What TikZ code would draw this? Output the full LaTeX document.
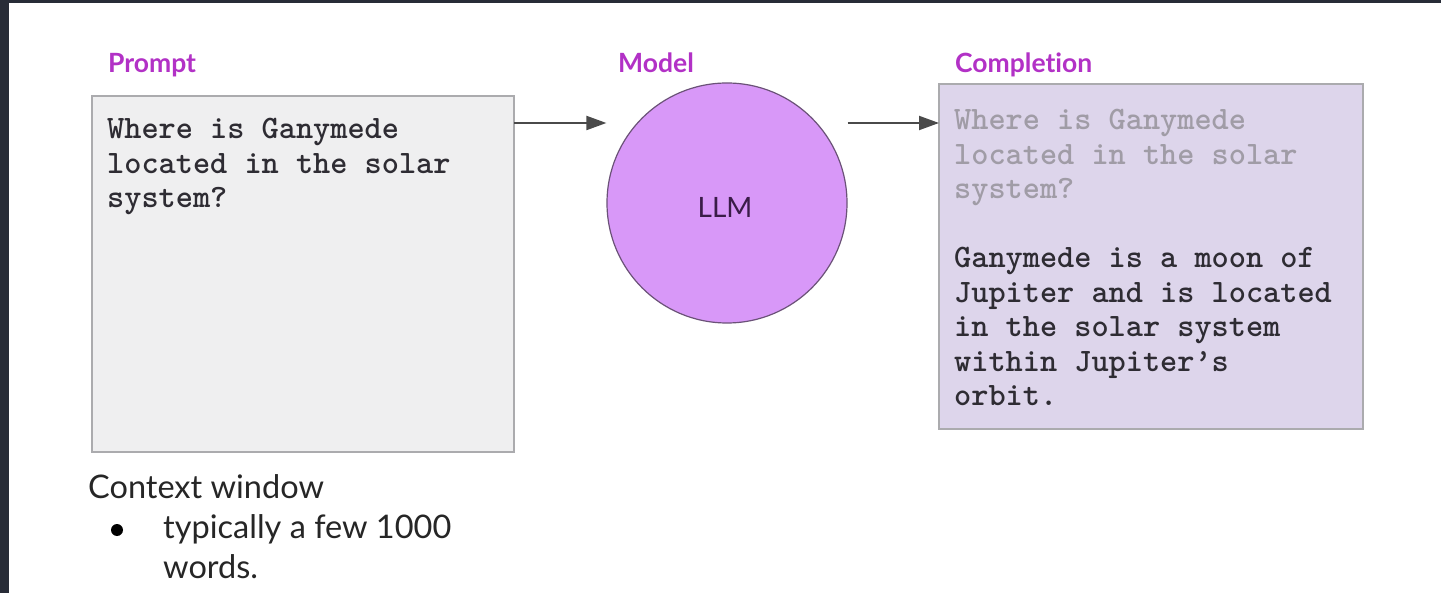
\documentclass[tikz,border=0pt]{standalone}
\usepackage{fontspec}
\setmainfont{Lato}[Ligatures=NoCommon]
\newfontfamily\slabcode[Extension=.otf]{lmmonolt10-bold}
\usetikzlibrary{arrows.meta}
\definecolor{frame}{HTML}{282C37}
\definecolor{heading}{HTML}{B231C6}
\definecolor{promptfill}{HTML}{EFEFF0}
\definecolor{boxline}{HTML}{ABABAE}
\definecolor{complfill}{HTML}{DDD5EB}
\definecolor{llmfill}{HTML}{D898F8}
\definecolor{llmline}{HTML}{6B5278}
\definecolor{llmtext}{HTML}{3A1C48}
\definecolor{echo}{HTML}{A09CA6}
\definecolor{answer}{HTML}{2E2C33}
\definecolor{arrowc}{HTML}{4A4A4A}
\tikzset{
  heading/.style={anchor=base west, inner sep=0pt, text=heading,
    font=\fontsize{26.5}{30}\selectfont\bfseries},
  textbox/.style={draw=boxline, line width=1.2pt},
  code/.style={anchor=north west, inner sep=0pt, align=left,
    font=\slabcode\fontsize{32.7}{34.6}\selectfont},
  flow/.style={draw=arrowc, line width=2pt,
    -{Triangle[length=20pt,width=14pt]}},
  plain/.style={anchor=base west, inner sep=0pt, text=black!85,
    font=\fontsize{32.5}{40}\selectfont}
}
\begin{document}
\begin{tikzpicture}[x=1pt,y=-1pt]
  % page background and dark frame
  \fill[frame] (0,0) rectangle (1441,593);
  \fill[white] (9,3) rectangle (1441,593);
  \useasboundingbox (0,0) rectangle (1441,593);

  % headings
  \node[heading] (hprompt) at (108,73) {Prompt};
  \node[heading] (hmodel) at (618,73) {Model};
  \node[heading] (hcompl) at (955,73) {Completion};

  % prompt box
  \path[textbox, fill=promptfill] (92,96) rectangle (514,452);
  \coordinate (promptR) at (514,123);
  \node[code, text=answer] (ptext) at (107,118)
    {Where is Ganymede\\located in the solar\\system?};

  % model
  \node[circle, draw=llmline, fill=llmfill, line width=1.2pt,
        minimum size=240pt, inner sep=0pt] (llm) at (727,203) {};
  \node[text=llmtext, font=\fontsize{28}{30}\selectfont] (llmlabel) at (725,207) {LLM};

  % completion box
  \path[textbox, fill=complfill] (939,84) rectangle (1363,429);
  \coordinate (complL) at (939,123);
  \node[code, text=echo] (ctext1) at (954,109)
    {Where is Ganymede\\located in the solar\\system?};
  \node[code, text=answer] (ctext2) at (954,247)
    {Ganymede is a moon of\\Jupiter and is located\\in the solar system\\within Jupiter’s\\orbit.};

  % connectors
  \draw[flow] (promptR) -- (llm.west |- promptR);
  \draw[flow] (llm.east |- complL) -- (complL);

  % caption below the prompt box
  \node[plain] (ctx) at (88,498) {Context window};
  \fill[black] (117,530) circle (6pt);
  \node[plain] (b1) at (163,538) {typically a few 1000};
  \node[plain] (b2) at (163,578) {words.};
\end{tikzpicture}
\end{document}
